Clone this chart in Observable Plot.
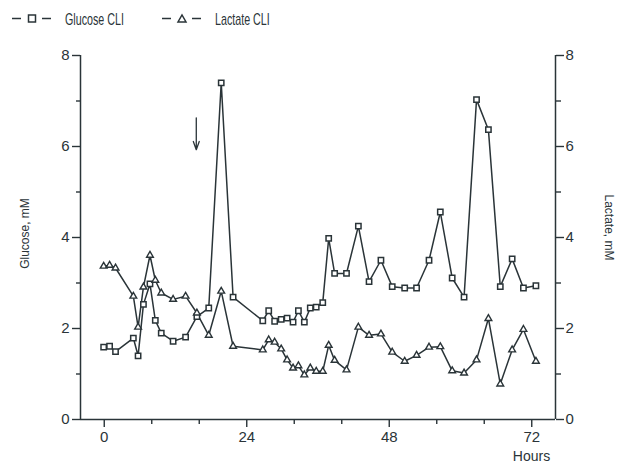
<!DOCTYPE html>
<html><head><meta charset="utf-8">
<script src="https://cdn.jsdelivr.net/npm/d3@7"></script>
<script src="https://cdn.jsdelivr.net/npm/@observablehq/plot@0.6"></script>
<style>
body{margin:0;background:#fff;font-family:"Liberation Sans",Arial,sans-serif;}
#legend{height:35px;}
#legend svg,#chart svg{display:block;}
</style></head><body>
<div id="legend"></div>
<div id="chart"></div>
<script>
// ---- data ----
const hours = [-0.1, 0.9, 1.9, 4.9, 5.7, 6.6, 7.7, 8.6, 9.6, 11.6, 13.7, 15.6, 17.6, 19.7, 21.7,
  26.7, 27.7, 28.7, 29.8, 30.8, 31.8, 32.7, 33.7, 34.7, 35.7, 36.8, 37.8, 38.8, 40.8, 42.8,
  44.6, 46.6, 48.5, 50.6, 52.6, 54.7, 56.6, 58.6, 60.6, 62.7, 64.7, 66.7, 68.7, 70.6, 72.7];
const glucose = [1.59, 1.61, 1.49, 1.79, 1.40, 2.53, 2.98, 2.18, 1.90, 1.72, 1.81, 2.26, 2.45, 7.40, 2.69,
  2.17, 2.39, 2.16, 2.20, 2.23, 2.14, 2.39, 2.14, 2.45, 2.47, 2.57, 3.98, 3.21, 3.21, 4.25,
  3.03, 3.50, 2.92, 2.89, 2.89, 3.50, 4.56, 3.11, 2.69, 7.03, 6.37, 2.92, 3.53, 2.89, 2.94];
const lactate = [3.37, 3.39, 3.33, 2.71, 2.03, 2.91, 3.61, 3.06, 2.78, 2.64, 2.71, 2.34, 1.85, 2.82, 1.61,
  1.53, 1.75, 1.70, 1.55, 1.31, 1.13, 1.18, 0.98, 1.13, 1.06, 1.06, 1.63, 1.30, 1.09, 2.03,
  1.85, 1.88, 1.48, 1.28, 1.41, 1.59, 1.60, 1.07, 1.02, 1.31, 2.22, 0.78, 1.53, 1.98, 1.28];
const seriesNames = ["Glucose CLI", "Lactate CLI"];
const xDomain = [-4, 76];
const yDomain = [0, 8];
const xTicks = [0, 24, 48, 72];
const xMinorTicks = [8, 16, 32, 40, 56, 64];
const yTicks = [0, 2, 4, 6, 8];
const yMinorTicks = [1, 3, 5, 7];
const leftTitle = "Glucose, mM";
const rightTitle = "Lactate, mM";
const bottomTitle = "Hours";
const arrowNote = [{x: 15.5, y1: 6.63, y2: 5.93}];

const ink = "#2a3438";
const font = "'Liberation Sans', Arial, sans-serif";

const gData = hours.map((h, i) => ({h, v: glucose[i]}));
const lData = hours.map((h, i) => ({h, v: lactate[i]}));

// ---- legend ----
const lg = d3.select("#legend").append("svg").attr("width", 629).attr("height", 35);
const items = [
  {name: seriesNames[0], x: 12, symbol: "square"},
  {name: seriesNames[1], x: 162, symbol: "triangle"}
];
items.forEach(it => {
  const g = lg.append("g").attr("stroke", ink).attr("stroke-width", 1.5).attr("fill", "white");
  const cy = 18.5;
  g.append("line").attr("x1", it.x).attr("x2", it.x + 9).attr("y1", cy).attr("y2", cy);
  g.append("line").attr("x1", it.x + 30).attr("x2", it.x + 39).attr("y1", cy).attr("y2", cy);
  const cx = it.x + 20;
  if (it.symbol === "square") {
    g.append("rect").attr("x", cx - 3.5).attr("y", cy - 3.5).attr("width", 7).attr("height", 7);
  } else {
    g.append("polygon").attr("points", `${cx-4},${cy+3.5} ${cx+4},${cy+3.5} ${cx},${cy-3.5}`);
  }
  lg.append("text")
    .attr("transform", `translate(${it.x + 53},24.5) scale(0.67,1)`)
    .attr("font-family", font).attr("font-size", 16).attr("fill", ink)
    .text(it.name);
});

// ---- chart ----
const chart = Plot.plot({
  width: 629,
  height: 434,
  marginLeft: 80,
  marginRight: 74,
  marginTop: 20,
  marginBottom: 50,
  style: {fontFamily: font, color: ink, background: "white", overflow: "visible"},
  x: {domain: xDomain, axis: null, label: null},
  y: {domain: yDomain, axis: null, label: null},
  marks: [
    Plot.axisY({anchor: "left", ticks: yTicks, tickSize: 8, tickPadding: 3, fontSize: 15, label: null, strokeWidth: 1.4}),
    Plot.axisY({anchor: "left", ticks: yMinorTicks, tickSize: 4, tickFormat: () => "", label: null, strokeWidth: 1.4}),
    Plot.axisY({anchor: "right", ticks: yTicks, tickSize: 8, tickPadding: 2, fontSize: 15, label: null, strokeWidth: 1.4}),
    Plot.axisY({anchor: "right", ticks: yMinorTicks, tickSize: 5, tickFormat: () => "", label: null, strokeWidth: 1.4}),
    Plot.axisX({anchor: "bottom", ticks: xTicks, tickSize: 8, tickPadding: 4, fontSize: 15, label: null, strokeWidth: 1.4}),
    Plot.axisX({anchor: "bottom", ticks: xMinorTicks, tickSize: 5, tickFormat: () => "", label: null, strokeWidth: 1.4}),
    Plot.ruleY([yDomain[0]], {stroke: ink, strokeWidth: 1.5}),
    Plot.ruleX(xDomain, {stroke: ink, strokeWidth: 1.5}),
    Plot.text([leftTitle], {frameAnchor: "left", dx: -55, dy: -4, rotate: -90, fontSize: 12, fill: ink, textAnchor: "middle"}),
    Plot.text([rightTitle], {frameAnchor: "right", dx: 53, dy: -10, rotate: 90, fontSize: 12, fill: ink, textAnchor: "middle"}),
    Plot.text([bottomTitle], {frameAnchor: "bottom-right", dx: -24, dy: 41, fontSize: 14, fill: ink, textAnchor: "middle"}),
    Plot.line(gData, {x: "h", y: "v", stroke: ink, strokeWidth: 1.5}),
    Plot.line(lData, {x: "h", y: "v", stroke: ink, strokeWidth: 1.5}),
    Plot.dot(gData, {x: "h", y: "v", symbol: "square", r: 3, fill: "white", stroke: ink, strokeWidth: 1.5}),
    Plot.dot(lData, {x: "h", y: "v", symbol: "triangle", r: 2.5, fill: "white", stroke: ink, strokeWidth: 1.4}),
    Plot.arrow(arrowNote, {x1: "x", x2: "x", y1: "y1", y2: "y2", stroke: ink, strokeWidth: 1.3, headLength: 10, headAngle: 40})
  ]
});
document.getElementById("chart").appendChild(chart);
</script>
</body></html>
